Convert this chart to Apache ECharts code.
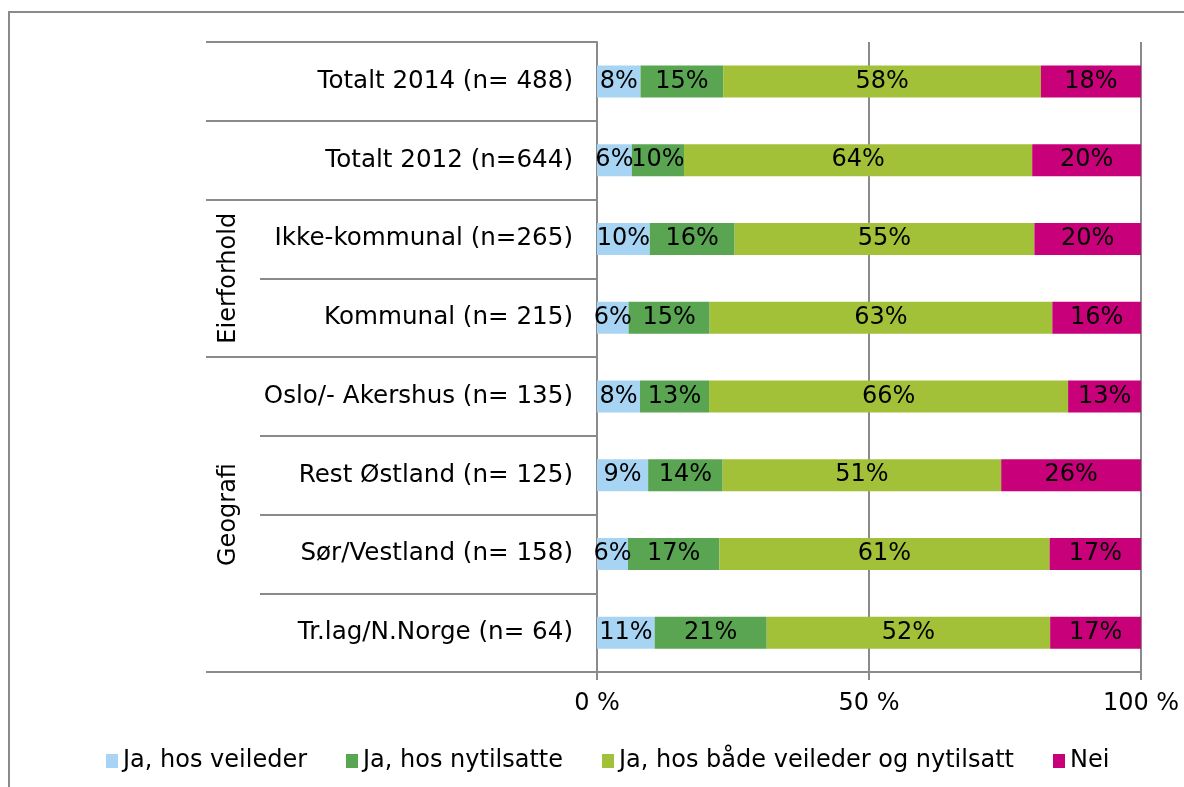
<!DOCTYPE html>
<html>
<head>
<meta charset="utf-8">
<script src="https://cdn.jsdelivr.net/npm/echarts@6/dist/echarts.min.js"></script>
<style>
html, body { margin: 0; padding: 0; background: #fff; }
#chart { width: 1184px; height: 787px; }
</style>
</head>
<body>
<div id="chart"></div>
<script>
// kategorier (ovenfra og ned)
var categories = [
    'Totalt 2014 (n= 488)',
    'Totalt 2012 (n=644)',
    'Ikke-kommunal (n=265)',
    'Kommunal (n= 215)',
    'Oslo/- Akershus (n= 135)',
    'Rest Østland (n= 125)',
    'Sør/Vestland (n= 158)',
    'Tr.lag/N.Norge (n= 64)'
];
// grupper paa kategoriaksen: [start, slutt)
var groupNames = ['Eierforhold', 'Geografi'];
var groupStart = [2, 4];
var groupEnd = [4, 8];

var seriesNames = ['Ja, hos veileder', 'Ja, hos nytilsatte', 'Ja, hos både veileder og nytilsatt', 'Nei'];
var jaVeileder   = [8.0, 6.4, 9.7, 5.8, 7.9, 9.4, 5.7, 10.6];
var jaNytilsatte = [15.2, 9.6, 15.6, 14.9, 12.7, 13.7, 16.8, 20.6];
var jaBegge      = [58.4, 64.0, 55.1, 63.0, 66.0, 51.2, 60.7, 52.1];
var nei          = [18.4, 20.0, 19.6, 16.3, 13.4, 25.7, 16.8, 16.7];

var xMin = 0, xMax = 100, xStep = 50;

var colors = ['#a8d4f3', '#5aa552', '#a2c038', '#c8007a'];
var lineColor = '#8a8a8a';
var font = 'DejaVu Sans';

var myChart = echarts.init(document.getElementById('chart'));

// lange streker: der en ny "blokk" begynner (ikke inni en gruppe)
function isLongTick(index) {
    for (var g = 0; g < groupNames.length; g++) {
        if (index > groupStart[g] && index < groupEnd[g]) return false;
    }
    return true;
}
function groupLabel(v) {
    for (var g = 0; g < groupNames.length; g++) {
        if (Math.abs(v - (groupStart[g] + groupEnd[g]) / 2) < 1e-6) return groupNames[g];
    }
    return '';
}

var values = [jaVeileder, jaNytilsatte, jaBegge, nei];
var series = [];
for (var i = 0; i < seriesNames.length; i++) {
    series.push({
        name: seriesNames[i],
        type: 'bar',
        stack: 'total',
        barWidth: 32,
        data: values[i],
        itemStyle: { color: colors[i] },
        label: {
            show: true,
            position: 'inside',
            color: '#000',
            fontFamily: font,
            fontSize: 24,
            formatter: function (p) { return Math.round(p.value) + '%'; }
        }
    });
}

var option = {
    animation: false,
    color: colors,
    graphic: [{
        type: 'rect',
        shape: { x: 9, y: 12, width: 1400, height: 900 },
        style: { fill: 'none', stroke: lineColor, lineWidth: 2 },
        silent: true
    }],
    legend: {
        data: seriesNames,
        left: 101,
        top: 744,
        icon: 'rect',
        itemWidth: 12,
        itemHeight: 14,
        itemGap: 39,
        textStyle: { fontFamily: font, fontSize: 24, color: '#000' }
    },
    grid: {
        left: 597,
        right: 43,
        top: 42,
        bottom: 115,
        outerBoundsMode: 'none'
    },
    xAxis: {
        type: 'value',
        min: xMin,
        max: xMax,
        interval: xStep,
        axisLine: { show: true, onZero: false, lineStyle: { color: lineColor, width: 2 } },
        axisTick: { show: true, length: 8, lineStyle: { color: lineColor, width: 2 } },
        splitLine: { show: true, lineStyle: { color: lineColor, width: 2 } },
        axisLabel: {
            margin: 20,
            color: '#000',
            fontFamily: font,
            fontSize: 24,
            formatter: '{value} %'
        }
    },
    yAxis: [{
        type: 'category',
        data: categories,
        inverse: true,
        position: 'left',
        axisLine: { show: true, onZero: false, lineStyle: { color: lineColor, width: 2 } },
        axisTick: { show: true, interval: 0, length: 337, lineStyle: { color: lineColor, width: 2 } },
        axisLabel: {
            margin: 24,
            color: '#000',
            fontFamily: font,
            fontSize: 24.6
        }
    }, {
        type: 'category',
        data: categories,
        inverse: true,
        position: 'left',
        axisLine: { show: false, onZero: false },
        axisTick: {
            show: true,
            interval: function (index) { return isLongTick(index); },
            length: 391,
            lineStyle: { color: lineColor, width: 2 }
        },
        axisLabel: { show: false },
        splitLine: { show: false }
    }, {
        type: 'value',
        min: 0,
        max: categories.length,
        interval: 1,
        inverse: true,
        position: 'left',
        axisLine: { show: false, onZero: false },
        axisTick: { show: false },
        splitLine: { show: false },
        axisLabel: {
            rotate: 90,
            margin: 356,
            color: '#000',
            fontFamily: font,
            fontSize: 24,
            formatter: groupLabel
        }
    }],
    series: series
};

myChart.setOption(option);
window.addEventListener('resize', function () {
    myChart.resize();
});
</script>
</body>
</html>
